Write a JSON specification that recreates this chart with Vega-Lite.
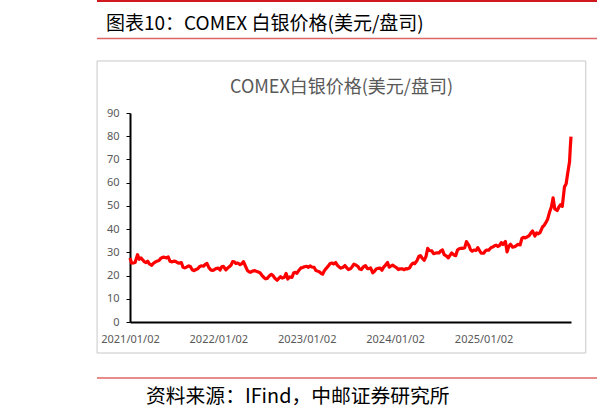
{
  "$schema": "https://vega.github.io/schema/vega-lite/v6.json",
  "padding": {"left": 96, "top": 0, "right": 0, "bottom": 5},
  "background": "white",
  "columns": 1,
  "spacing": 22,
  "config": {
    "view": {"stroke": null},
    "axis": {"grid": false}
  },
  "concat": [
    {
      "vconcat": [
        {
          "width": 441,
          "height": 37,
          "data": {"values": [{"v": 0}, {"v": 1}]},
          "mark": {"type": "rule", "strokeWidth": 0, "opacity": 0},
          "encoding": {
            "x": {
              "field": "v", "type": "quantitative",
              "scale": {"domain": [0, 1], "nice": false, "zero": false, "range": [-33.5, 467.5]},
              "axis": {
                "orient": "top", "labels": false, "ticks": false,
                "domainColor": "#d0191f", "domainWidth": 3,
                "title": "图表10：COMEX 白银价格(美元/盘司)",
                "titleX": -24.5, "titleY": 23, "titleAlign": "left", "titleAnchor": "start",
                "titleBaseline": "middle", "titleFont": "Noto Sans CJK SC",
                "titleFontSize": 19, "titleFontWeight": "normal", "titleColor": "#000000"
              }
            }
          }
        },
        {
          "width": 441,
          "height": 1,
          "data": {"values": [{"v": 0}, {"v": 1}]},
          "mark": {"type": "rule", "strokeWidth": 0, "opacity": 0},
          "encoding": {
            "x": {
              "field": "v", "type": "quantitative",
              "scale": {"domain": [0, 1], "nice": false, "zero": false, "range": [-33.5, 467.5]},
              "axis": {
                "orient": "bottom", "labels": false, "ticks": false,
                "domainColor": "#e06464", "domainWidth": 1.5, "title": null
              }
            }
          }
        }
      ],
      "spacing": 0
    },
    {
      "width": 441,
      "height": 209,
      "title": {
        "text": "COMEX白银价格(美元/盘司)",
        "font": "Noto Sans CJK SC", "fontSize": 18, "fontWeight": "normal",
        "color": "#595959", "anchor": "middle", "frame": "group", "dx": -9, "offset": -37
      },
      "encoding": {
        "x": {
          "type": "temporal",
          "scale": {"type": "utc", "nice": false, "domain": [
            {"year": 2021, "month": 1, "date": 2, "utc": true},
            {"year": 2025, "month": 12, "date": 29, "utc": true}
          ]},
          "axis": {
            "values": [
              {"year": 2021, "month": 1, "date": 2, "utc": true},
              {"year": 2022, "month": 1, "date": 2, "utc": true},
              {"year": 2023, "month": 1, "date": 2, "utc": true},
              {"year": 2024, "month": 1, "date": 2, "utc": true},
              {"year": 2025, "month": 1, "date": 2, "utc": true}
            ],
            "format": "%Y/%m/%d",
            "ticks": false, "tickSize": 0,
            "domainColor": "#000000", "domainWidth": 2,
            "labelColor": "#595959", "labelFont": "Noto Sans", "labelFontSize": 11,
            "labelPadding": 11, "labelFlush": false, "labelOverlap": false,
            "title": null
          }
        },
        "y": {
          "type": "quantitative",
          "scale": {"domain": [0, 90], "nice": false, "zero": false},
          "axis": {
            "values": [0, 10, 20, 30, 40, 50, 60, 70, 80, 90],
            "ticks": true, "tickSize": 4, "tickColor": "#000000", "tickWidth": 1,
            "domainColor": "#000000", "domainWidth": 2,
            "labelColor": "#595959", "labelFont": "Noto Sans", "labelFontSize": 11,
            "labelPadding": 7, "labelOverlap": false, "labelFlush": false, "title": null
          }
        }
      },
      "layer": [
        {
          "data": {"values": [{}]},
          "mark": {"type": "rect", "filled": false, "stroke": "#c8c8c8", "strokeWidth": 1},
          "encoding": {
            "x": {"datum": {"year": 2020, "month": 8, "date": 19, "utc": true}},
            "x2": {"datum": {"year": 2026, "month": 2, "date": 28, "utc": true}},
            "y": {"datum": 112.4},
            "y2": {"datum": -13.35}
          }
        },
        {
          "data": {"values": [
            {"date": "2021-01-02", "price": 27.6}, {"date": "2021-01-09", "price": 25.3}, {"date": "2021-01-16", "price": 25.4}, {"date": "2021-01-23", "price": 25.6},
            {"date": "2021-02-02", "price": 29.0}, {"date": "2021-02-09", "price": 27.0}, {"date": "2021-02-16", "price": 27.6}, {"date": "2021-02-23", "price": 26.8},
            {"date": "2021-03-02", "price": 26.0}, {"date": "2021-03-09", "price": 25.6}, {"date": "2021-03-16", "price": 26.2}, {"date": "2021-03-23", "price": 25.0},
            {"date": "2021-04-02", "price": 24.4}, {"date": "2021-04-09", "price": 25.3}, {"date": "2021-04-16", "price": 25.8}, {"date": "2021-04-23", "price": 26.2},
            {"date": "2021-05-02", "price": 26.5}, {"date": "2021-05-09", "price": 27.4}, {"date": "2021-05-16", "price": 27.8}, {"date": "2021-05-23", "price": 27.9},
            {"date": "2021-06-02", "price": 27.6}, {"date": "2021-06-09", "price": 28.0}, {"date": "2021-06-16", "price": 26.2}, {"date": "2021-06-23", "price": 25.9},
            {"date": "2021-07-02", "price": 26.2}, {"date": "2021-07-09", "price": 26.1}, {"date": "2021-07-16", "price": 25.6}, {"date": "2021-07-23", "price": 25.3},
            {"date": "2021-08-02", "price": 25.6}, {"date": "2021-08-09", "price": 23.6}, {"date": "2021-08-16", "price": 23.3}, {"date": "2021-08-23", "price": 23.6},
            {"date": "2021-09-02", "price": 24.2}, {"date": "2021-09-09", "price": 23.8}, {"date": "2021-09-16", "price": 22.5}, {"date": "2021-09-23", "price": 22.1},
            {"date": "2021-10-02", "price": 22.6}, {"date": "2021-10-09", "price": 22.9}, {"date": "2021-10-16", "price": 23.8}, {"date": "2021-10-23", "price": 24.2},
            {"date": "2021-11-02", "price": 24.0}, {"date": "2021-11-09", "price": 24.8}, {"date": "2021-11-16", "price": 25.2}, {"date": "2021-11-23", "price": 23.6},
            {"date": "2021-12-02", "price": 22.4}, {"date": "2021-12-09", "price": 22.2}, {"date": "2021-12-16", "price": 22.5}, {"date": "2021-12-23", "price": 23.0},
            {"date": "2022-01-02", "price": 23.2}, {"date": "2022-01-09", "price": 22.4}, {"date": "2022-01-16", "price": 23.8}, {"date": "2022-01-23", "price": 24.0},
            {"date": "2022-02-02", "price": 22.4}, {"date": "2022-02-09", "price": 23.2}, {"date": "2022-02-16", "price": 23.8}, {"date": "2022-02-23", "price": 24.4},
            {"date": "2022-03-02", "price": 26.0}, {"date": "2022-03-09", "price": 25.9}, {"date": "2022-03-16", "price": 25.2}, {"date": "2022-03-23", "price": 25.4},
            {"date": "2022-04-02", "price": 24.7}, {"date": "2022-04-09", "price": 25.1}, {"date": "2022-04-16", "price": 26.0}, {"date": "2022-04-23", "price": 24.3},
            {"date": "2022-05-02", "price": 22.2}, {"date": "2022-05-09", "price": 21.6}, {"date": "2022-05-16", "price": 21.4}, {"date": "2022-05-23", "price": 21.9},
            {"date": "2022-06-02", "price": 22.1}, {"date": "2022-06-09", "price": 21.8}, {"date": "2022-06-16", "price": 21.5}, {"date": "2022-06-23", "price": 21.2},
            {"date": "2022-07-02", "price": 20.0}, {"date": "2022-07-09", "price": 19.2}, {"date": "2022-07-16", "price": 18.6}, {"date": "2022-07-23", "price": 18.8},
            {"date": "2022-08-02", "price": 20.0}, {"date": "2022-08-09", "price": 20.5}, {"date": "2022-08-16", "price": 20.0}, {"date": "2022-08-23", "price": 18.9},
            {"date": "2022-09-02", "price": 18.0}, {"date": "2022-09-09", "price": 18.8}, {"date": "2022-09-16", "price": 19.5}, {"date": "2022-09-23", "price": 18.9},
            {"date": "2022-10-02", "price": 19.3}, {"date": "2022-10-09", "price": 20.9}, {"date": "2022-10-16", "price": 18.5}, {"date": "2022-10-23", "price": 19.4},
            {"date": "2022-11-02", "price": 19.2}, {"date": "2022-11-09", "price": 21.1}, {"date": "2022-11-16", "price": 21.4}, {"date": "2022-11-23", "price": 21.0},
            {"date": "2022-12-02", "price": 22.4}, {"date": "2022-12-09", "price": 23.3}, {"date": "2022-12-16", "price": 23.4}, {"date": "2022-12-23", "price": 23.8},
            {"date": "2023-01-02", "price": 24.0}, {"date": "2023-01-09", "price": 23.5}, {"date": "2023-01-16", "price": 24.2}, {"date": "2023-01-23", "price": 23.7},
            {"date": "2023-02-02", "price": 23.5}, {"date": "2023-02-09", "price": 22.2}, {"date": "2023-02-16", "price": 21.9}, {"date": "2023-02-23", "price": 21.6},
            {"date": "2023-03-02", "price": 21.0}, {"date": "2023-03-09", "price": 20.6}, {"date": "2023-03-16", "price": 22.1}, {"date": "2023-03-23", "price": 23.0},
            {"date": "2023-04-02", "price": 24.2}, {"date": "2023-04-09", "price": 25.2}, {"date": "2023-04-16", "price": 25.4}, {"date": "2023-04-23", "price": 25.0},
            {"date": "2023-05-02", "price": 25.6}, {"date": "2023-05-09", "price": 24.4}, {"date": "2023-05-16", "price": 23.7}, {"date": "2023-05-23", "price": 23.2},
            {"date": "2023-06-02", "price": 23.6}, {"date": "2023-06-09", "price": 24.3}, {"date": "2023-06-16", "price": 23.4}, {"date": "2023-06-23", "price": 22.6},
            {"date": "2023-07-02", "price": 22.9}, {"date": "2023-07-09", "price": 23.8}, {"date": "2023-07-16", "price": 24.9}, {"date": "2023-07-23", "price": 24.6},
            {"date": "2023-08-02", "price": 23.9}, {"date": "2023-08-09", "price": 22.8}, {"date": "2023-08-16", "price": 22.6}, {"date": "2023-08-23", "price": 23.6},
            {"date": "2023-09-02", "price": 24.3}, {"date": "2023-09-09", "price": 23.0}, {"date": "2023-09-16", "price": 23.0}, {"date": "2023-09-23", "price": 23.3},
            {"date": "2023-10-02", "price": 21.2}, {"date": "2023-10-09", "price": 21.8}, {"date": "2023-10-16", "price": 22.8}, {"date": "2023-10-23", "price": 23.1},
            {"date": "2023-11-02", "price": 23.2}, {"date": "2023-11-09", "price": 22.3}, {"date": "2023-11-16", "price": 23.6}, {"date": "2023-11-23", "price": 24.4},
            {"date": "2023-12-02", "price": 25.6}, {"date": "2023-12-09", "price": 23.6}, {"date": "2023-12-16", "price": 24.1}, {"date": "2023-12-23", "price": 24.5},
            {"date": "2024-01-02", "price": 23.8}, {"date": "2024-01-09", "price": 23.3}, {"date": "2024-01-16", "price": 22.6}, {"date": "2024-01-23", "price": 22.9},
            {"date": "2024-02-02", "price": 22.9}, {"date": "2024-02-09", "price": 22.5}, {"date": "2024-02-16", "price": 23.0}, {"date": "2024-02-23", "price": 22.9},
            {"date": "2024-03-02", "price": 23.3}, {"date": "2024-03-09", "price": 24.6}, {"date": "2024-03-16", "price": 25.4}, {"date": "2024-03-23", "price": 25.1},
            {"date": "2024-04-02", "price": 26.5}, {"date": "2024-04-09", "price": 28.2}, {"date": "2024-04-16", "price": 28.6}, {"date": "2024-04-23", "price": 27.5},
            {"date": "2024-05-02", "price": 26.6}, {"date": "2024-05-09", "price": 28.3}, {"date": "2024-05-16", "price": 31.7}, {"date": "2024-05-23", "price": 30.8},
            {"date": "2024-06-02", "price": 30.6}, {"date": "2024-06-09", "price": 29.4}, {"date": "2024-06-16", "price": 29.6}, {"date": "2024-06-23", "price": 29.8},
            {"date": "2024-07-02", "price": 29.8}, {"date": "2024-07-09", "price": 30.6}, {"date": "2024-07-16", "price": 31.0}, {"date": "2024-07-23", "price": 29.0},
            {"date": "2024-08-02", "price": 28.4}, {"date": "2024-08-09", "price": 27.6}, {"date": "2024-08-16", "price": 28.7}, {"date": "2024-08-23", "price": 29.7},
            {"date": "2024-09-02", "price": 28.8}, {"date": "2024-09-09", "price": 28.6}, {"date": "2024-09-16", "price": 31.0}, {"date": "2024-09-23", "price": 31.5},
            {"date": "2024-10-02", "price": 31.8}, {"date": "2024-10-09", "price": 31.7}, {"date": "2024-10-16", "price": 32.0}, {"date": "2024-10-23", "price": 34.6},
            {"date": "2024-11-02", "price": 33.0}, {"date": "2024-11-09", "price": 31.1}, {"date": "2024-11-16", "price": 30.5}, {"date": "2024-11-23", "price": 31.0},
            {"date": "2024-12-02", "price": 30.8}, {"date": "2024-12-09", "price": 32.0}, {"date": "2024-12-16", "price": 30.8}, {"date": "2024-12-23", "price": 29.6},
            {"date": "2025-01-02", "price": 29.6}, {"date": "2025-01-09", "price": 30.6}, {"date": "2025-01-16", "price": 31.0}, {"date": "2025-01-23", "price": 30.9},
            {"date": "2025-02-02", "price": 32.1}, {"date": "2025-02-09", "price": 32.3}, {"date": "2025-02-16", "price": 32.8}, {"date": "2025-02-23", "price": 33.1},
            {"date": "2025-03-02", "price": 32.5}, {"date": "2025-03-09", "price": 33.0}, {"date": "2025-03-16", "price": 34.2}, {"date": "2025-03-23", "price": 33.4},
            {"date": "2025-04-02", "price": 34.7}, {"date": "2025-04-09", "price": 30.2}, {"date": "2025-04-16", "price": 32.6}, {"date": "2025-04-23", "price": 33.5},
            {"date": "2025-05-02", "price": 32.2}, {"date": "2025-05-09", "price": 32.4}, {"date": "2025-05-16", "price": 32.8}, {"date": "2025-05-23", "price": 33.4},
            {"date": "2025-06-02", "price": 33.2}, {"date": "2025-06-09", "price": 36.0}, {"date": "2025-06-16", "price": 36.5}, {"date": "2025-06-23", "price": 36.2},
            {"date": "2025-07-02", "price": 36.7}, {"date": "2025-07-09", "price": 37.2}, {"date": "2025-07-16", "price": 38.3}, {"date": "2025-07-23", "price": 39.2},
            {"date": "2025-08-02", "price": 37.0}, {"date": "2025-08-09", "price": 38.4}, {"date": "2025-08-16", "price": 38.0}, {"date": "2025-08-23", "price": 38.5},
            {"date": "2025-09-02", "price": 40.9}, {"date": "2025-09-09", "price": 41.6}, {"date": "2025-09-16", "price": 42.8}, {"date": "2025-09-23", "price": 44.1},
            {"date": "2025-10-02", "price": 47.5}, {"date": "2025-10-09", "price": 49.5}, {"date": "2025-10-16", "price": 53.5}, {"date": "2025-10-23", "price": 48.7},
            {"date": "2025-11-02", "price": 48.0}, {"date": "2025-11-09", "price": 49.5}, {"date": "2025-11-16", "price": 50.5}, {"date": "2025-11-23", "price": 49.8},
            {"date": "2025-12-02", "price": 58.2}, {"date": "2025-12-09", "price": 59.5}, {"date": "2025-12-16", "price": 64.5}, {"date": "2025-12-23", "price": 69.0},
            {"date": "2025-12-26", "price": 75.0}, {"date": "2025-12-29", "price": 79.8}
          ]},
          "mark": {"type": "line", "color": "#ff0000", "strokeWidth": 3.2, "strokeJoin": "round"},
          "encoding": {
            "x": {"field": "date"},
            "y": {"field": "price"}
          }
        }
      ]
    },
    {
      "width": 441,
      "height": 1.5,
      "data": {"values": [{"v": 0}, {"v": 1}]},
      "mark": {"type": "rule", "strokeWidth": 0, "opacity": 0},
      "encoding": {
        "x": {
          "field": "v", "type": "quantitative",
          "scale": {"domain": [0, 1], "nice": false, "zero": false, "range": [-33.5, 467.5]},
          "axis": {
            "orient": "bottom", "labels": false, "ticks": false,
            "domainColor": "#e06464", "domainWidth": 1.5,
            "title": "资料来源：IFind，中邮证券研究所",
            "titleX": 15.5, "titleY": 19, "titleAlign": "left", "titleAnchor": "start",
            "titleBaseline": "middle", "titleFont": "Noto Sans CJK SC",
            "titleFontSize": 19.8, "titleFontWeight": "normal", "titleColor": "#000000"
          }
        }
      }
    }
  ]
}
